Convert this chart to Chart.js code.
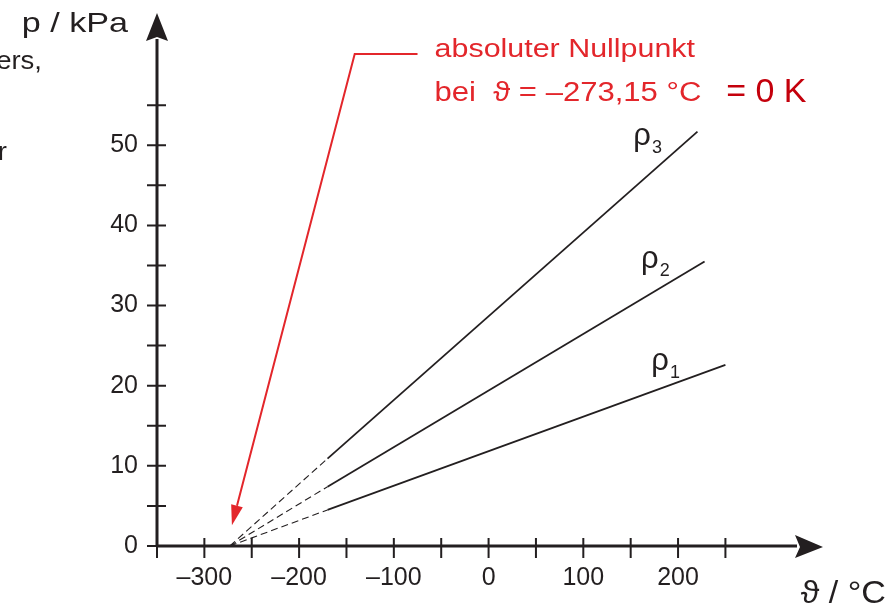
<!DOCTYPE html>
<html>
<head>
<meta charset="utf-8">
<script src="https://cdn.jsdelivr.net/npm/chart.js@4/dist/chart.umd.min.js"></script>
<style>
  html, body { margin: 0; padding: 0; background: #fff; }
  canvas { display: block; }
</style>
</head>
<body>
<canvas id="chart" width="892" height="607"></canvas>
<script>
// Gas pressure vs temperature, isochores for three densities
const seriesNames = ['1', '2', '3'];          // subscripts of rho
const zeroC = -273.15;                        // absolute zero, p = 0
const breakC = -170;                          // dashed part ends here
const breakP = [4.5, 7.4, 10.9];
const endC = [250, 228, 220.5];
const endP = [22.6, 35.5, 51.7];

const xTickMarks = [-350, -300, -250, -200, -150, -100, -50, 0, 50, 100, 150, 200, 250];
const xTickLabels = [-300, -200, -100, 0, 100, 200];
const yTickMarks = [0, 5, 10, 15, 20, 25, 30, 35, 40, 45, 50, 55];
const yTickLabels = [0, 10, 20, 30, 40, 50];

const INK = '#231f20';
const RED = '#e3262b';
const DARK_RED = '#c4000c';
const FONT = '"Liberation Sans", Arial, "DejaVu Sans", sans-serif';

function fmtTick(v) {
    return v < 0 ? '\u2013' + Math.abs(v) : String(v);
}

function drawText(ctx, str, x, y, size, color, sx, align) {
    ctx.save();
    ctx.translate(x, y);
    ctx.scale(sx, 1);
    ctx.font = size + 'px ' + FONT;
    ctx.fillStyle = color;
    ctx.textAlign = align || 'left';
    ctx.textBaseline = 'alphabetic';
    ctx.fillText(str, 0, 0);
    ctx.restore();
}

const datasets = seriesNames.map((n, i) => ({
    label: 'ρ' + n,
    data: [
        { x: zeroC, y: 0 },
        { x: breakC, y: breakP[i] },
        { x: endC[i], y: endP[i] }
    ],
    showLine: true,
    borderColor: INK,
    borderWidth: 1.8,
    pointRadius: 0,
    segment: {
        borderDash: c => c.p0DataIndex === 0 ? [7, 4] : undefined,
        borderWidth: c => c.p0DataIndex === 0 ? 1.1 : 1.8
    }
}));

// axes with crossing ticks and arrowheads, plus all annotations
const decor = {
    id: 'decor',
    afterDatasetsDraw(chart) {
        const { ctx, chartArea: a, scales: { x, y } } = chart;
        const x0 = a.left, y0 = a.bottom;
        ctx.save();
        ctx.strokeStyle = INK;
        ctx.fillStyle = INK;

        // axis lines
        ctx.lineWidth = 3;
        ctx.beginPath();
        ctx.moveTo(x0, y0 + 1);
        ctx.lineTo(x0, a.top + 26);
        ctx.moveTo(x0 - 1, y0);
        ctx.lineTo(a.right - 26, y0);
        ctx.stroke();

        // tick marks
        ctx.lineWidth = 2;
        ctx.beginPath();
        xTickMarks.forEach(v => {
            const px = x.getPixelForValue(v);
            ctx.moveTo(px, y0 - 8);
            ctx.lineTo(px, y0 + 12);
        });
        yTickMarks.forEach(v => {
            const py = y.getPixelForValue(v);
            ctx.moveTo(x0 - 10, py);
            ctx.lineTo(v === 0 ? x0 : x0 + 9, py);
        });
        ctx.stroke();

        // arrowheads
        ctx.beginPath();
        ctx.moveTo(x0, a.top);
        ctx.lineTo(x0 + 11, a.top + 28);
        ctx.lineTo(x0, a.top + 24);
        ctx.lineTo(x0 - 11, a.top + 28);
        ctx.closePath();
        ctx.fill();
        ctx.beginPath();
        ctx.moveTo(a.right, y0 + 1);
        ctx.lineTo(a.right - 28, y0 - 11);
        ctx.lineTo(a.right - 23, y0 + 1);
        ctx.lineTo(a.right - 28, y0 + 12);
        ctx.closePath();
        ctx.fill();

        // axis titles
        drawText(ctx, 'p / kPa', 128, 32, 28, INK, 1.22, 'right');
        drawText(ctx, 'ϑ / °C', 886, 603, 31, INK, 1.1, 'right');

        // cut-off text from the source page
        drawText(ctx, 'ers,', 42, 69, 25, INK, 1.1, 'right');
        drawText(ctx, 'r', 7, 160, 25, INK, 1.1, 'right');

        // rho labels
        const rhoPos = [[171.8, 22.0], [161, 34.7], [152.8, 50.0]];
        seriesNames.forEach((n, i) => {
            const px = x.getPixelForValue(rhoPos[i][0]);
            const py = y.getPixelForValue(rhoPos[i][1]);
            drawText(ctx, 'ρ', px, py, 31, INK, 1, 'left');
            ctx.font = '31px ' + FONT;
            const w = ctx.measureText('ρ').width;
            drawText(ctx, n, px + w + 1, py + 8, 18, INK, 1, 'left');
        });

        // red arrow to absolute zero
        const tipX = x.getPixelForValue(-270.9), tipY = y.getPixelForValue(2.6);
        const elX = x.getPixelForValue(-141.3), elY = y.getPixelForValue(61.4);
        const hX = x.getPixelForValue(-75);
        ctx.strokeStyle = RED;
        ctx.fillStyle = RED;
        ctx.lineWidth = 2;
        const ang = Math.atan2(tipY - elY, tipX - elX);
        const headLen = 20, headW = 6;
        const bx = tipX - headLen * Math.cos(ang), by = tipY - headLen * Math.sin(ang);
        ctx.beginPath();
        ctx.moveTo(hX, elY);
        ctx.lineTo(elX, elY);
        ctx.lineTo(bx, by);
        ctx.stroke();
        ctx.beginPath();
        ctx.moveTo(tipX, tipY);
        ctx.lineTo(bx + headW * Math.sin(ang), by - headW * Math.cos(ang));
        ctx.lineTo(bx - headW * Math.sin(ang), by + headW * Math.cos(ang));
        ctx.closePath();
        ctx.fill();

        // red note
        const tx = x.getPixelForValue(-57);
        drawText(ctx, 'absoluter Nullpunkt', tx, y.getPixelForValue(61.0), 26, RED, 1.17, 'left');
        drawText(ctx, 'bei  ϑ = \u2013273,15 °C', tx, y.getPixelForValue(55.5), 27, RED, 1.15, 'left');
        drawText(ctx, '= 0 K', x.getPixelForValue(250.8), y.getPixelForValue(55.4), 33, DARK_RED, 1.03, 'left');

        ctx.restore();
    }
};

new Chart(document.getElementById('chart').getContext('2d'), {
    type: 'scatter',
    data: { datasets },
    options: {
        responsive: false,
        maintainAspectRatio: false,
        animation: false,
        layout: { padding: { top: 13, right: 69, left: 0, bottom: 0 } },
        plugins: { legend: { display: false }, tooltip: { enabled: false } },
        scales: {
            x: {
                type: 'linear',
                min: -350,
                max: 353,
                afterFit: s => { s.height = 61; s.paddingLeft = 0; s.paddingRight = 0; },
                grid: { display: false, drawTicks: false },
                border: { display: false },
                ticks: {
                    stepSize: 50,
                    autoSkip: false,
                    maxRotation: 0,
                    padding: 17,
                    color: INK,
                    font: { family: FONT, size: 25 },
                    callback: v => xTickLabels.includes(v) ? fmtTick(v) : ''
                }
            },
            y: {
                type: 'linear',
                min: 0,
                max: 66.5,
                afterFit: s => { s.width = 157; s.paddingTop = 0; s.paddingBottom = 0; },
                grid: { display: false, drawTicks: false },
                border: { display: false },
                ticks: {
                    stepSize: 5,
                    autoSkip: false,
                    padding: 19,
                    color: INK,
                    font: { family: FONT, size: 25 },
                    callback: v => yTickLabels.includes(v) ? String(v) : ''
                }
            }
        }
    },
    plugins: [decor]
});
</script>
</body>
</html>
